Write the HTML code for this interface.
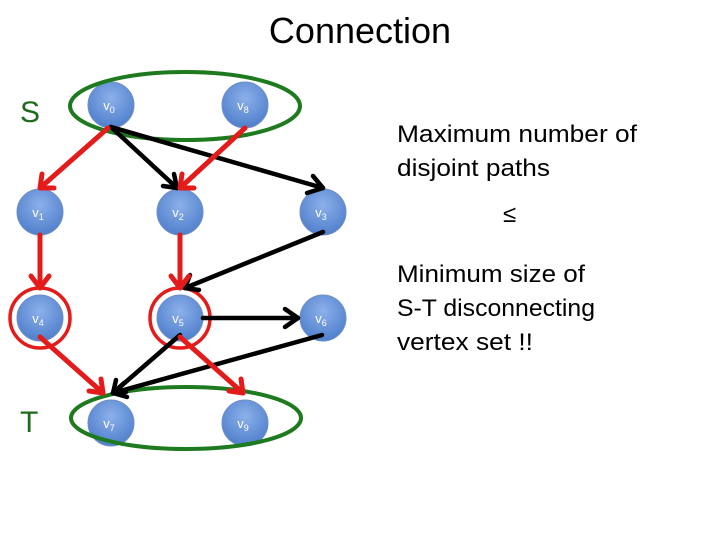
<!DOCTYPE html>
<html><head><meta charset="utf-8"><style>html,body{margin:0;padding:0;background:#fff}svg{display:block}</style></head><body>
<svg width="720" height="540" viewBox="0 0 720 540" xmlns="http://www.w3.org/2000/svg" font-family="Liberation Sans, sans-serif">
<defs>
<radialGradient id="g" cx="50%" cy="35%" r="65%"><stop offset="0" stop-color="#8cb0ea"/><stop offset="1" stop-color="#4f7fcc"/></radialGradient>
<marker id="ab" markerWidth="10" markerHeight="10" refX="8" refY="5" orient="auto" markerUnits="userSpaceOnUse" viewBox="0 0 10 10"><path d="M0,0 L9,5 L0,10" fill="none" stroke="#000" stroke-width="0"/></marker>
</defs>
<text x="360" y="43" text-anchor="middle" font-size="36" fill="#000">Connection</text>
<text x="20" y="122" font-size="30" fill="#1e6b1e">S</text>
<text x="20" y="432" font-size="30" fill="#1e6b1e">T</text>
<g font-size="24" fill="#000">
<text x="397" y="142" textLength="240" lengthAdjust="spacingAndGlyphs">Maximum number of</text>
<text x="397" y="176" textLength="153" lengthAdjust="spacingAndGlyphs">disjoint paths</text>
<text x="503" y="222">≤</text>
<text x="397" y="282" textLength="188" lengthAdjust="spacingAndGlyphs">Minimum size of</text>
<text x="397" y="316" textLength="198" lengthAdjust="spacingAndGlyphs">S-T disconnecting</text>
<text x="397" y="350" textLength="136" lengthAdjust="spacingAndGlyphs">vertex set !!</text>
</g>
<!-- nodes -->
<g stroke="#6f8fc4" stroke-width="1" fill="url(#g)">
<circle cx="111" cy="105" r="23"/><circle cx="245" cy="105" r="23"/>
<circle cx="40" cy="212" r="23"/><circle cx="180" cy="212" r="23"/><circle cx="323" cy="212" r="23"/>
<circle cx="40" cy="318" r="23"/><circle cx="180" cy="318" r="23"/><circle cx="323" cy="318" r="23"/>
<circle cx="111" cy="423" r="23"/><circle cx="245" cy="423" r="23"/>
</g>
<g fill="#fff" font-size="13" text-anchor="middle">
<text x="109" y="110">v<tspan font-size="9" dy="3">0</tspan></text>
<text x="243" y="110">v<tspan font-size="9" dy="3">8</tspan></text>
<text x="38" y="217">v<tspan font-size="9" dy="3">1</tspan></text>
<text x="178" y="217">v<tspan font-size="9" dy="3">2</tspan></text>
<text x="321" y="217">v<tspan font-size="9" dy="3">3</tspan></text>
<text x="38" y="323">v<tspan font-size="9" dy="3">4</tspan></text>
<text x="178" y="323">v<tspan font-size="9" dy="3">5</tspan></text>
<text x="321" y="323">v<tspan font-size="9" dy="3">6</tspan></text>
<text x="109" y="428">v<tspan font-size="9" dy="3">7</tspan></text>
<text x="243" y="428">v<tspan font-size="9" dy="3">9</tspan></text>
</g>
<!-- ellipses -->
<ellipse cx="185" cy="106" rx="115" ry="34" fill="none" stroke="#1e7a1e" stroke-width="4"/>
<ellipse cx="186" cy="418" rx="115" ry="31" fill="none" stroke="#1e7a1e" stroke-width="4"/>
<circle cx="40" cy="318" r="30" fill="none" stroke="#e41b1b" stroke-width="3.5"/>
<circle cx="180" cy="318" r="30" fill="none" stroke="#e41b1b" stroke-width="3.5"/>
<!-- black edges -->
<g stroke="#000" stroke-width="4.5" fill="none" stroke-linecap="round" stroke-linejoin="round">
<line x1="111" y1="127" x2="177" y2="188"/><path d="M163,186 L177,188 L174,174"/>
<line x1="111" y1="127" x2="323" y2="188"/><path d="M307,193 L323,188 L313,176"/>
<line x1="323" y1="232" x2="185" y2="288"/><path d="M190,275 L185,288 L199,290"/>
<line x1="203" y1="318" x2="298" y2="318"/><path d="M285,309 L298,318 L285,327"/>
<line x1="180" y1="335" x2="113" y2="393"/><path d="M116,380 L113,393 L126,392"/>
<line x1="322" y1="335" x2="113" y2="393"/><path d="M124,383 L113,393 L127,397"/>
</g>
<!-- red edges -->
<g stroke="#e41b1b" stroke-width="5" fill="none" stroke-linecap="round" stroke-linejoin="round">
<line x1="108" y1="128" x2="40" y2="188"/><path d="M42,174 L40,188 L54,188"/>
<line x1="245" y1="128" x2="180" y2="188"/><path d="M182,174 L180,188 L194,188"/>
<line x1="40" y1="235" x2="40" y2="288"/><path d="M31,276 L40,288 L49,276"/>
<line x1="180" y1="235" x2="180" y2="288"/><path d="M171,276 L180,288 L189,276"/>
<line x1="40" y1="337" x2="103" y2="393"/><path d="M89,391 L103,393 L101,379"/>
<line x1="180" y1="337" x2="243" y2="393"/><path d="M229,391 L243,393 L241,379"/>
</g>
</svg>
</body></html>
